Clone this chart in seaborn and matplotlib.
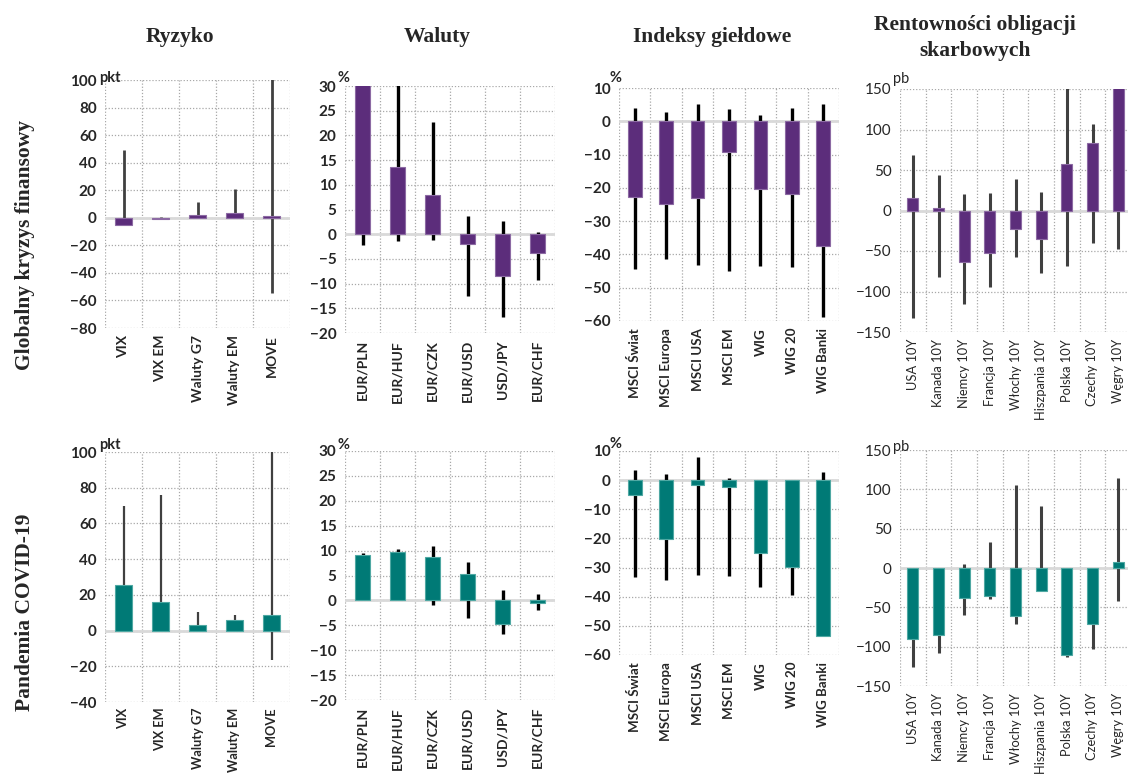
import numpy as np
import pandas as pd
import matplotlib
matplotlib.use("Agg")
import matplotlib.pyplot as plt
import matplotlib.transforms as mtransforms
from matplotlib.ticker import FixedLocator, MultipleLocator
import seaborn as sns

sns.set_style("white")
plt.rcParams["font.family"] = ["Lato", "DejaVu Sans"]

# ---- categories ----
risk_labels = ["VIX", "VIX EM", "Waluty G7", "Waluty EM", "MOVE"]
fx_labels = ["EUR/PLN", "EUR/HUF", "EUR/CZK", "EUR/USD", "USD/JPY", "EUR/CHF"]
eq_labels = ["MSCI Świat", "MSCI Europa", "MSCI USA", "MSCI EM", "WIG", "WIG 20", "WIG Banki"]
bond_labels = ["USA 10Y", "Kanada 10Y", "Niemcy 10Y", "Francja 10Y", "Włochy 10Y",
               "Hiszpania 10Y", "Polska 10Y", "Czechy 10Y", "Węgry 10Y"]

# ---- global financial crisis: change, min, max ----
gfc_risk_chg = [-5.6, -0.6, 2.0, 3.6, 1.5]
gfc_risk_min = [-5.6, -0.6, 0.0, 0.0, -54.6]
gfc_risk_max = [49.3, 0.5, 11.6, 20.8, 130.0]

gfc_fx_chg = [35.0, 13.7, 8.0, -2.0, -8.5, -3.8]
gfc_fx_min = [-2.2, -1.3, -1.1, -12.6, -16.7, -9.2]
gfc_fx_max = [35.0, 32.0, 22.7, 3.7, 2.6, 0.4]

gfc_eq_chg = [-22.8, -24.7, -23.0, -9.3, -20.4, -21.9, -37.5]
gfc_eq_min = [-44.4, -41.5, -43.2, -45.0, -43.6, -43.9, -58.8]
gfc_eq_max = [4.0, 2.7, 5.3, 3.6, 1.9, 4.0, 5.2]

gfc_bond_chg = [16.0, 3.7, -63.0, -52.7, -23.0, -35.8, 58.0, 83.0, 165.0]
gfc_bond_min = [-133.0, -81.5, -115.6, -94.2, -56.8, -77.0, -68.7, -40.3, -47.7]
gfc_bond_max = [68.7, 43.6, 20.2, 21.0, 38.3, 22.6, 165.0, 107.0, 165.0]

# ---- COVID-19 pandemic: change, min, max ----
cov_risk_chg = [25.5, 16.0, 3.3, 5.7, 8.9]
cov_risk_min = [0.0, -0.4, 0.0, 0.0, -16.7]
cov_risk_max = [69.7, 75.9, 10.2, 8.9, 110.0]

cov_fx_chg = [9.1, 9.7, 8.7, 5.3, -4.8, -0.6]
cov_fx_min = [0.0, 0.0, -0.9, -3.5, -6.8, -2.0]
cov_fx_max = [9.5, 10.3, 10.9, 7.7, 2.1, 1.3]

cov_eq_chg = [-5.0, -20.3, -1.7, -2.3, -24.9, -29.8, -53.6]
cov_eq_min = [-33.4, -34.1, -32.5, -32.8, -36.6, -39.5, -53.6]
cov_eq_max = [3.5, 2.1, 7.8, 0.9, 0.0, 0.0, 2.8]

cov_bond_chg = [-90.4, -85.7, -38.2, -35.6, -61.5, -29.3, -110.3, -70.9, 7.2]
cov_bond_min = [-126.0, -107.8, -60.2, -39.5, -71.7, -29.3, -113.3, -103.1, -42.0]
cov_bond_max = [0.0, 0.0, 4.7, 33.1, 105.2, 78.9, 0.0, 0.0, 114.6]

PURPLE = "#5c2d7b"
PURPLE_EDGE = "#8c6aa3"
TEAL = "#007a76"
TEAL_EDGE = "#4fa8a3"

W, H = 1128, 776
fig = plt.figure(figsize=(W / 100, H / 100), dpi=100)
fig.patch.set_facecolor("white")


def rect(left, right, top, bottom):
    return [left / W, 1 - bottom / H, (right - left) / W, (bottom - top) / H]


panels = [
    # row 1
    dict(r=rect(105, 290, 80, 328), cats=risk_labels, chg=gfc_risk_chg, lo=gfc_risk_min,
         hi=gfc_risk_max, yl=(-80, 100), step=20, unit="pkt", uoff=(-6, 2),
         col=PURPLE, edge=PURPLE_EDGE, lc="#404040", lw=2.0, bold=True, fs=10, xpad=5),
    dict(r=rect(345, 555, 86, 333), cats=fx_labels, chg=gfc_fx_chg, lo=gfc_fx_min,
         hi=gfc_fx_max, yl=(-20, 30), step=5, unit="%", uoff=(-7, 8),
         col=PURPLE, edge=PURPLE_EDGE, lc="black", lw=2.4, bold=True, fs=10, xpad=5),
    dict(r=rect(619, 839, 88, 321), cats=eq_labels, chg=gfc_eq_chg, lo=gfc_eq_min,
         hi=gfc_eq_max, yl=(-60, 10), step=10, unit="%", uoff=(-9, 10),
         col=PURPLE, edge=PURPLE_EDGE, lc="black", lw=2.4, bold=True, fs=9.6, xpad=5),
    dict(r=rect(900, 1131, 89, 332), cats=bond_labels, chg=gfc_bond_chg, lo=gfc_bond_min,
         hi=gfc_bond_max, yl=(-150, 150), step=50, unit="pb", uoff=(-7, 10),
         col=PURPLE, edge=PURPLE_EDGE, lc="#404040", lw=2.2, bold=False, fs=9.3, xpad=5),
    # row 2
    dict(r=rect(105, 290, 452, 702), cats=risk_labels, chg=cov_risk_chg, lo=cov_risk_min,
         hi=cov_risk_max, yl=(-40, 100), step=20, unit="pkt", uoff=(-6, 7),
         col=TEAL, edge=TEAL_EDGE, lc="#404040", lw=1.6, bold=True, fs=9.2, xpad=4),
    dict(r=rect(345, 555, 451, 700), cats=fx_labels, chg=cov_fx_chg, lo=cov_fx_min,
         hi=cov_fx_max, yl=(-20, 30), step=5, unit="%", uoff=(-7, 6),
         col=TEAL, edge=TEAL_EDGE, lc="black", lw=2.4, bold=True, fs=10, xpad=5),
    dict(r=rect(619, 839, 451, 655), cats=eq_labels, chg=cov_eq_chg, lo=cov_eq_min,
         hi=cov_eq_max, yl=(-60, 10), step=10, unit="%", uoff=(-9, 7),
         col=TEAL, edge=TEAL_EDGE, lc="black", lw=2.4, bold=True, fs=9.6, xpad=5),
    dict(r=rect(900, 1131, 450, 686), cats=bond_labels, chg=cov_bond_chg, lo=cov_bond_min,
         hi=cov_bond_max, yl=(-150, 150), step=50, unit="pb", uoff=(-7, 3),
         col=TEAL, edge=TEAL_EDGE, lc="#404040", lw=2.2, bold=False, fs=9.3, xpad=5),
]

for p in panels:
    ax = fig.add_axes(p["r"])
    n = len(p["cats"])
    df = pd.DataFrame({"cat": p["cats"], "chg": p["chg"], "lo": p["lo"], "hi": p["hi"]})
    weight = "bold" if p["bold"] else "normal"

    # min-max range as a vertical line behind each bar
    ax.vlines(np.arange(n), df["lo"], df["hi"], colors=p["lc"], lw=p["lw"], zorder=2)
    sns.barplot(data=df, x="cat", y="chg", order=p["cats"], color=p["col"], saturation=1,
                width=0.44, edgecolor=p["edge"], linewidth=0.8, errorbar=None,
                zorder=3, ax=ax)
    ax.axhline(0, color="#d9d9d9", lw=2.0, zorder=1.5)

    ax.set_xlim(-0.5, n - 0.5)
    ax.set_ylim(*p["yl"])
    ax.yaxis.set_major_locator(MultipleLocator(p["step"]))
    ax.xaxis.set_minor_locator(FixedLocator(np.arange(-0.5, n, 1.0)))
    ax.set_axisbelow(True)
    ax.grid(False)
    ax.grid(axis="y", which="major", linestyle=(0, (1, 1.5)), color="#a8a8a8", lw=0.9)
    ax.grid(axis="x", which="minor", linestyle=(0, (1, 1.5)), color="#a8a8a8", lw=0.9)
    for s in ax.spines.values():
        s.set_visible(False)
    ax.tick_params(which="both", length=0)
    ax.tick_params(axis="x", pad=p["xpad"])
    ax.tick_params(axis="y", pad=6)
    ax.set_xlabel("")
    ax.set_ylabel("")
    ax.set_xticks(np.arange(n))
    ax.set_xticklabels(p["cats"], rotation=90, fontsize=p["fs"], fontweight=weight)
    for t in ax.get_yticklabels():
        t.set_fontsize(11)
        t.set_fontweight(weight)

    ux, uy = p["uoff"]
    tr = mtransforms.offset_copy(ax.transAxes, fig=fig, x=ux, y=uy, units="dots")
    ax.text(0, 1, p["unit"], transform=tr, ha="left", va="center", fontsize=10.5,
            fontweight=weight)

serif = ["Liberation Serif", "DejaVu Serif"]
title_kw = dict(ha="center", va="center", fontsize=15.5, fontweight="bold", family=serif)
fig.text(180 / W, 1 - 37 / H, "Ryzyko", **title_kw)
fig.text(437 / W, 1 - 37 / H, "Waluty", **title_kw)
fig.text(712 / W, 1 - 37 / H, "Indeksy giełdowe", **title_kw)
fig.text(975 / W, 1 - 38 / H, "Rentowności obligacji\nskarbowych", linespacing=1.35,
         **title_kw)
fig.text(25 / W, 1 - 245 / H, "Globalny kryzys finansowy", rotation=90, **title_kw)
fig.text(25 / W, 1 - 612 / H, "Pandemia COVID-19", rotation=90, **title_kw)

fig.savefig("out.png", dpi=100, facecolor="white")
